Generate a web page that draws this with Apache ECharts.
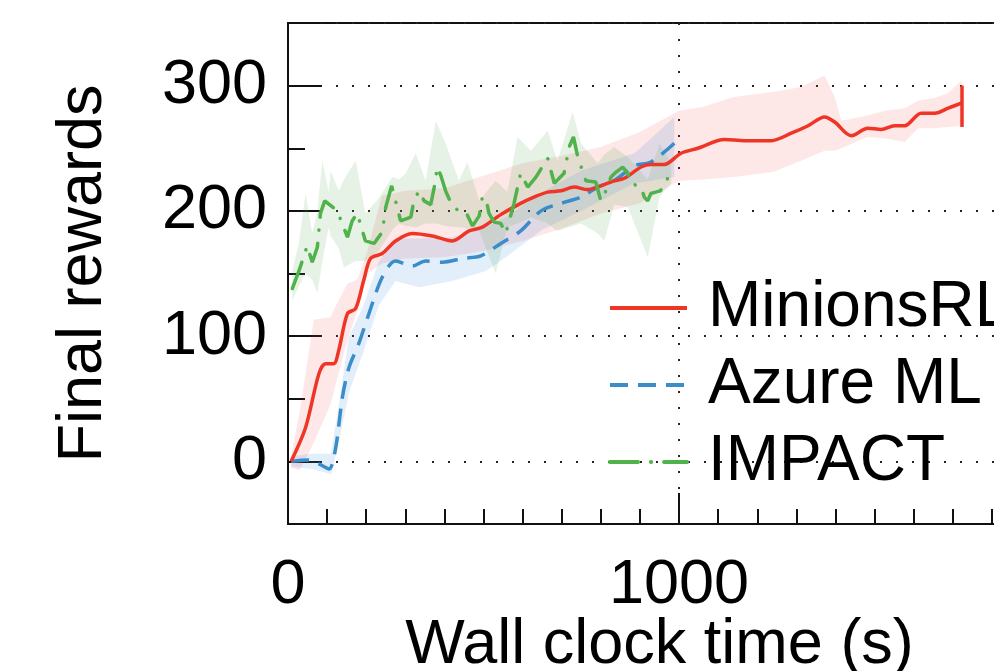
<!DOCTYPE html>
<html>
<head>
<meta charset="utf-8">
<script src="https://cdn.jsdelivr.net/npm/echarts@6/dist/echarts.min.js"></script>
<style>
html,body{margin:0;padding:0;background:#fff;}
#main{width:994px;height:671px;}
</style>
</head>
<body>
<div id="main"></div>
<script>
// MinionsRL mean curve
var minionsX = [8, 45, 79, 96, 117, 130, 152, 173, 194, 211, 241, 275, 318, 369, 420, 463, 497, 544, 595, 629, 664, 698, 732, 766, 800, 834, 860, 903, 928, 962, 1005, 1048, 1116, 1167, 1236, 1287, 1330, 1372, 1398, 1440, 1483, 1517, 1551, 1577, 1619, 1654, 1688, 1722];
var minionsY = [0, 27, 70, 78, 78, 89, 118, 122, 145, 162, 166, 176, 182, 180, 176, 184, 187, 197, 206, 211, 215, 216, 219, 217, 220, 224, 226, 235, 237, 237, 246, 250, 257, 256, 256, 262, 268, 275, 271, 260, 266, 265, 268, 268, 278, 278, 282, 286];
var minionsBandX = [8, 30, 66, 108, 152, 177, 203, 240, 300, 400, 500, 600, 700, 800, 900, 1000, 1060, 1140, 1240, 1312, 1372, 1398, 1415, 1480, 1526, 1577, 1611, 1650, 1688, 1722];
var minionsHigh = [5, 40, 113, 115, 142, 145, 168, 212, 216, 218, 228, 238, 244, 251, 263, 280, 283, 291, 295, 299, 308, 291, 272, 276, 280, 282, 288, 290, 294, 304];
var minionsLow = [-5, -7, 15, 45, 97, 120, 150, 158, 162, 163, 168, 176, 186, 198, 206, 224, 225, 227, 231, 240, 248, 248, 250, 259, 258, 255, 266, 266, 267, 268];
var minionsErr = [1722, 267, 300];

// Azure ML
var azureX = [8, 53, 79, 105, 122, 139, 156, 181, 207, 241, 275, 318, 352, 395, 446, 493, 544, 595, 647, 698, 749, 792, 834, 886, 928, 988];
var azureY = [0, 1, -2, -6, 11, 51, 75, 94, 118, 147, 160, 156, 160, 159, 162, 164, 174, 184, 200, 206, 211, 219, 224, 236, 239, 254];
var azureBandX = [8, 60, 110, 130, 156, 190, 233, 275, 335, 420, 506, 557, 650, 749, 886, 988];
var azureHigh = [4, 6, 6, 45, 100, 122, 160, 178, 178, 179, 187, 195, 215, 232, 246, 275];
var azureLow = [-4, -6, -10, 15, 55, 85, 125, 144, 139, 144, 152, 163, 185, 200, 222, 227];

// IMPACT
var impactX = [11, 28, 49, 62, 75, 83, 94, 126, 152, 164, 177, 198, 220, 241, 250, 265, 275, 288, 314, 322, 335, 348, 365, 374, 382, 391, 403, 420, 437, 455, 472, 489, 497, 506, 514, 527, 544, 557, 578, 595, 613, 634, 664, 681, 706, 719, 730, 741, 762, 787, 800, 813, 826, 839, 856, 869, 877, 903, 911, 920, 928, 952, 967, 975];
var impactY = [138, 152, 172, 159, 171, 198, 208, 200, 179, 192, 198, 176, 174, 183, 203, 220, 208, 192, 195, 208, 216, 208, 205, 219, 235, 228, 216, 204, 200, 199, 188, 196, 211, 210, 198, 191, 190, 182, 206, 230, 219, 227, 242, 222, 230, 251, 259, 243, 224, 223, 208, 216, 227, 231, 235, 230, 222, 219, 211, 208, 214, 216, 222, 231];
var impactBandX = [11, 28, 45, 62, 75, 88, 104, 109, 130, 143, 173, 198, 232, 267, 284, 301, 327, 352, 378, 403, 437, 459, 489, 531, 561, 587, 621, 664, 689, 728, 749, 792, 809, 834, 869, 920, 950, 980];
var impactHigh = [152, 175, 214, 182, 200, 240, 215, 232, 216, 225, 240, 198, 210, 227, 225, 230, 246, 224, 272, 254, 224, 239, 208, 224, 215, 259, 248, 264, 240, 279, 254, 238, 245, 251, 243, 225, 254, 238];
var impactLow = [128, 140, 150, 145, 134, 160, 187, 180, 170, 155, 160, 160, 168, 185, 190, 188, 187, 190, 190, 188, 187, 186, 184, 150, 187, 190, 195, 190, 184, 188, 190, 182, 176, 205, 203, 163, 211, 222];

var FONT = "'Liberation Sans', Arial, Helvetica, sans-serif";
var RED = '#ee3526', BLUE = '#3a8dc8', GREEN = '#4fb24a';

function pairs(xs, ys) {
    var out = [];
    for (var i = 0; i < xs.length; i++) out.push([xs[i], ys[i]]);
    return out;
}

// shaded band drawn as one polygon through the axis scales
function band(xs, lo, hi, fill) {
    var data = [];
    for (var i = 0; i < xs.length; i++) data.push([xs[i], lo[i], hi[i]]);
    return {
        type: 'custom',
        silent: true,
        z: 1,
        data: data,
        encode: {x: 0, y: [1, 2]},
        renderItem: function (params, api) {
            if (params.dataIndex !== 0) return;
            var pts = [];
            for (var j = 0; j < xs.length; j++) pts.push(api.coord([xs[j], hi[j]]));
            for (var k = xs.length - 1; k >= 0; k--) pts.push(api.coord([xs[k], lo[k]]));
            return {type: 'polygon', shape: {points: pts}, style: {fill: fill}};
        }
    };
}

var myChart = echarts.init(document.getElementById('main'));

var option = {
    animation: false,
    backgroundColor: '#fff',
    grid: {
        left: 288, top: 23, width: 743, height: 501,
        outerBoundsMode: 'none', containLabel: false,
        show: true, borderColor: '#111', borderWidth: 2
    },
    legend: {
        data: ['MinionsRL', 'Azure ML', 'IMPACT'],
        orient: 'vertical',
        left: 603, top: 271,
        itemWidth: 77, itemHeight: 20, itemGap: 13,
        itemStyle: {opacity: 0},
        lineStyle: {width: 4},
        textStyle: {fontSize: 64, fontFamily: FONT, color: '#000', padding: [0, 0, 0, 16]}
    },
    xAxis: {
        type: 'value',
        min: 0, max: 1900, interval: 1000,
        name: 'Wall clock time (s)',
        nameLocation: 'middle',
        nameGap: 90,
        nameMoveOverlap: false,
        nameTextStyle: {fontSize: 63, fontFamily: FONT, color: '#000'},
        axisLine: {onZero: false, lineStyle: {color: '#111', width: 2}},
        axisTick: {inside: true, length: 31, lineStyle: {color: '#111', width: 2}},
        minorTick: {show: true, splitNumber: 10, length: 15, lineStyle: {color: '#111', width: 2}},
        axisLabel: {fontSize: 63, fontFamily: FONT, color: '#000', margin: 30, showMaxLabel: false,
            formatter: function (v) { return String(v); }},
        splitLine: {show: true, lineStyle: {color: '#222', width: 2, type: [2, 14]}}
    },
    yAxis: {
        type: 'value',
        min: -50, max: 350, splitNumber: 4,
        name: 'Final rewards',
        nameLocation: 'middle',
        nameGap: 173,
        nameMoveOverlap: false,
        nameTextStyle: {fontSize: 63, fontFamily: FONT, color: '#000'},
        axisLine: {onZero: false, lineStyle: {color: '#111', width: 2}},
        axisTick: {inside: true, length: 33, lineStyle: {color: '#111', width: 2}},
        minorTick: {show: true, splitNumber: 2, length: 17, lineStyle: {color: '#111', width: 2}},
        axisLabel: {fontSize: 63, fontFamily: FONT, color: '#000', margin: 21, showMinLabel: false, showMaxLabel: false,
            formatter: function (v) { return String(v); }},
        splitLine: {show: true, lineStyle: {color: '#222', width: 2, type: [2, 14]}}
    },
    series: [
        band(minionsBandX, minionsLow, minionsHigh, 'rgba(240,60,60,0.12)'),
        band(azureBandX, azureLow, azureHigh, 'rgba(60,140,220,0.15)'),
        band(impactBandX, impactLow, impactHigh, 'rgba(80,170,80,0.15)'),
        {
            name: 'Azure ML', type: 'line', z: 3, symbol: 'none', smooth: 0.3,
            data: pairs(azureX, azureY),
            lineStyle: {color: BLUE, width: 3.5, type: [18, 10]},
            itemStyle: {color: BLUE}
        },
        {
            name: 'MinionsRL', type: 'line', z: 4, symbol: 'none', smooth: 0.3,
            data: pairs(minionsX, minionsY),
            lineStyle: {color: RED, width: 3.5},
            itemStyle: {color: RED},
            markLine: {
                silent: true, symbol: ['none', 'none'],
                label: {show: false},
                lineStyle: {color: RED, width: 3.5, type: 'solid'},
                data: [[{coord: [minionsErr[0], minionsErr[1]]}, {coord: [minionsErr[0], minionsErr[2]]}]]
            }
        },
        {
            name: 'IMPACT', type: 'line', z: 5, symbol: 'none',
            data: pairs(impactX, impactY),
            lineStyle: {color: GREEN, width: 3.5, type: [28, 13, 0.1, 13], cap: 'round'},
            itemStyle: {color: GREEN}
        }
    ]
};

myChart.setOption(option);
</script>
</body>
</html>
